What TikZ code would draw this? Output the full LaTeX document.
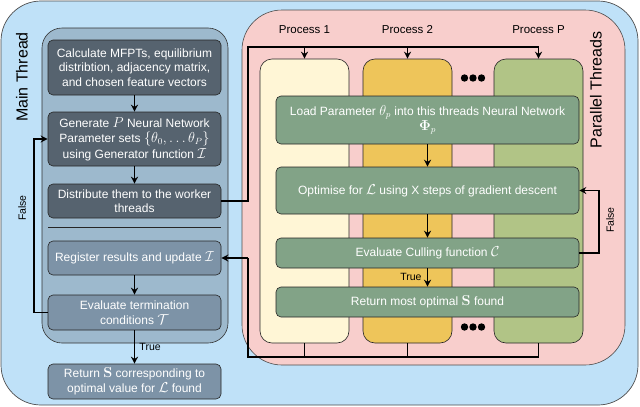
\documentclass[tikz,border=0pt]{standalone}
\usepackage[no-math]{fontspec}
\setmainfont{Liberation Sans}
\usepackage{amsmath,amssymb,bm}
\usetikzlibrary{arrows.meta}
\definecolor{outerblue}{HTML}{BFE1F8}
\definecolor{mainblue}{HTML}{9DB9CD}
\definecolor{darkbox}{HTML}{56636F}
\definecolor{lightbox}{HTML}{7D93A7}
\definecolor{pinkbg}{HTML}{F8CECC}
\definecolor{creamcol}{HTML}{FFF6D6}
\definecolor{goldcol}{HTML}{EEC55A}
\definecolor{olivecol}{HTML}{B1C486}
\definecolor{greenbox}{HTML}{82A387}
\newcommand{\mymath}[1]{{\fontsize{13.5}{13.5}\selectfont$#1$}}
\begin{document}
\begin{tikzpicture}[x=1pt,y=-1pt,
  boxtext/.style={text=white, align=center, font=\fontsize{12}{14.5}\selectfont, inner sep=2pt},
  mbox/.style={boxtext, draw=black!85, line width=0.6pt, rounded corners=5pt, fill=darkbox, minimum width=173pt},
  lbox/.style={mbox, fill=lightbox},
  gbox/.style={boxtext, draw=black!85, line width=0.6pt, rounded corners=5pt, fill=greenbox, minimum width=303pt},
  colbox/.style={draw=black!85, line width=0.6pt, rounded corners=12pt, minimum width=89pt, minimum height=284pt, inner sep=0pt},
  arr/.style={line width=1.3pt, -{Stealth[length=7pt,width=7pt]}},
  ln/.style={line width=1.3pt},
  biglabel/.style={font=\fontsize{16}{18}\selectfont, rotate=90},
  smalllabel/.style={font=\fontsize{10.5}{12}\selectfont},
  proclabel/.style={font=\fontsize{11.5}{13}\selectfont}
]
\useasboundingbox (0,0) rectangle (640,407);
% containers
\draw[draw=black!70, line width=0.7pt, fill=outerblue, rounded corners=40pt] (1,1) rectangle (638,405);
\draw[draw=black!80, line width=0.6pt, fill=mainblue, rounded corners=20pt] (42,28) rectangle (228,343);
\draw[draw=black!70, line width=0.6pt, fill=pinkbg, rounded corners=40pt] (242,10) rectangle (625,365);

% labels
\node[biglabel] (mainlbl) at (22,77) {Main Thread};
\node[biglabel] (parlbl) at (596,90) {Parallel Threads};

% main thread boxes
\node[mbox, minimum height=55pt] (calc) at (134.5,67.5) {Calculate MFPTs, equilibrium\\distribtion, adjacency matrix,\\and chosen feature vectors};
\node[mbox, minimum height=54pt, font=\fontsize{12}{15.5}\selectfont] (gen) at (134.5,139) {Generate \mymath{P} Neural Network\\Parameter sets \mymath{\{\theta_0,\ldots\theta_P\}}\\using Generator function \mymath{\mathcal{I}}};
\node[mbox, minimum height=34pt] (dist) at (134.5,201) {Distribute them to the worker\\threads};
\draw[line width=1pt, black!85] (48,227) -- (221,227);
\node[lbox, minimum height=34pt] (reg) at (134.5,258) {Register results and update \mymath{\mathcal{I}}};
\node[lbox, minimum height=35pt, font=\fontsize{12}{15}\selectfont] (evalT) at (134.5,312.5) {Evaluate termination\\conditions \mymath{\mathcal{T}}};
\node[lbox, minimum height=35pt, font=\fontsize{12}{15}\selectfont] (ret) at (134.5,381.5) {Return \mymath{\mathbf{S}} corresponding to\\optimal value for \mymath{\mathcal{L}} found};

% columns
\node[colbox, fill=creamcol] (c1) at (304.5,201) {};
\node[colbox, fill=goldcol] (c2) at (407.5,201) {};
\node[colbox, fill=olivecol] (c3) at (538.5,201) {};
\node[proclabel] (p1) at (304.5,30) {Process 1};
\node[proclabel] (p2) at (407.5,30) {Process 2};
\node[proclabel] (p3) at (538.5,30) {Process P};
\foreach \yy in {78,327}{
  \foreach \xx in {464.5,473,481.5}{
    \fill (\xx,\yy) circle (3.7pt);
  }
}

% green boxes
\node[gbox, minimum height=48pt, font=\fontsize{12}{15.5}\selectfont] (load) at (427.5,120) {Load Parameter \mymath{\theta_p} into this threads Neural Network\\\mymath{\bm{\Phi}_p}};
\node[gbox, minimum height=47pt] (opt) at (427.5,190.5) {Optimise for \mymath{\mathcal{L}} using X steps of gradient descent};
\node[gbox, minimum height=30pt] (cull) at (427.5,253) {Evaluate Culling function \mymath{\mathcal{C}}};
\node[gbox, minimum height=30pt] (rets) at (427.5,302) {Return most optimal \mymath{\mathbf{S}} found};

% main thread arrows
\draw[arr] (calc) -- (gen);
\draw[arr] (gen) -- (dist);
\draw[arr] (reg) -- (evalT);
\draw[arr] (evalT) -- (ret) node[pos=0.5, right, smalllabel, xshift=1pt] (truel) {True};
\coordinate (fl) at (34,312.5);
\draw[arr] (evalT.west) -- (fl) |- (gen.west);
\node[smalllabel, rotate=90] (falsel) at (22,208) {False};

% distribution
\coordinate (dA) at (248,201);
\coordinate (dB) at (248,47);
\coordinate (dC) at (538.5,47);
\draw[ln] (dist.east) -- (dA) -- (dB) -- (dC);
\draw[arr] (304.5,47) -- (c1.north);
\draw[arr] (407.5,47) -- (c2.north);
\draw[arr] (dC) -- (c3.north);

% green arrows
\draw[arr] (load) -- (opt);
\draw[arr] (opt) -- (cull);
\draw[arr] (cull) -- (rets);
\node[smalllabel, anchor=east] (truer) at (425,277) {True};
\coordinate (fr) at (599,253);
\draw[arr] (cull.east) -- (fr) |- (opt.east);
\node[smalllabel, rotate=90] (falser) at (610,220) {False};

% collection
\coordinate (k1) at (304.5,357);
\coordinate (k2) at (407.5,357);
\coordinate (k3) at (538.5,357);
\coordinate (k0) at (248,357);
\draw[ln] (c1.south) -- (k1);
\draw[ln] (c2.south) -- (k2);
\draw[ln] (c3.south) -- (k3) -- (k0) -- (248,258);
\draw[arr] (248,258) -- (reg.east);
\end{tikzpicture}
\end{document}
